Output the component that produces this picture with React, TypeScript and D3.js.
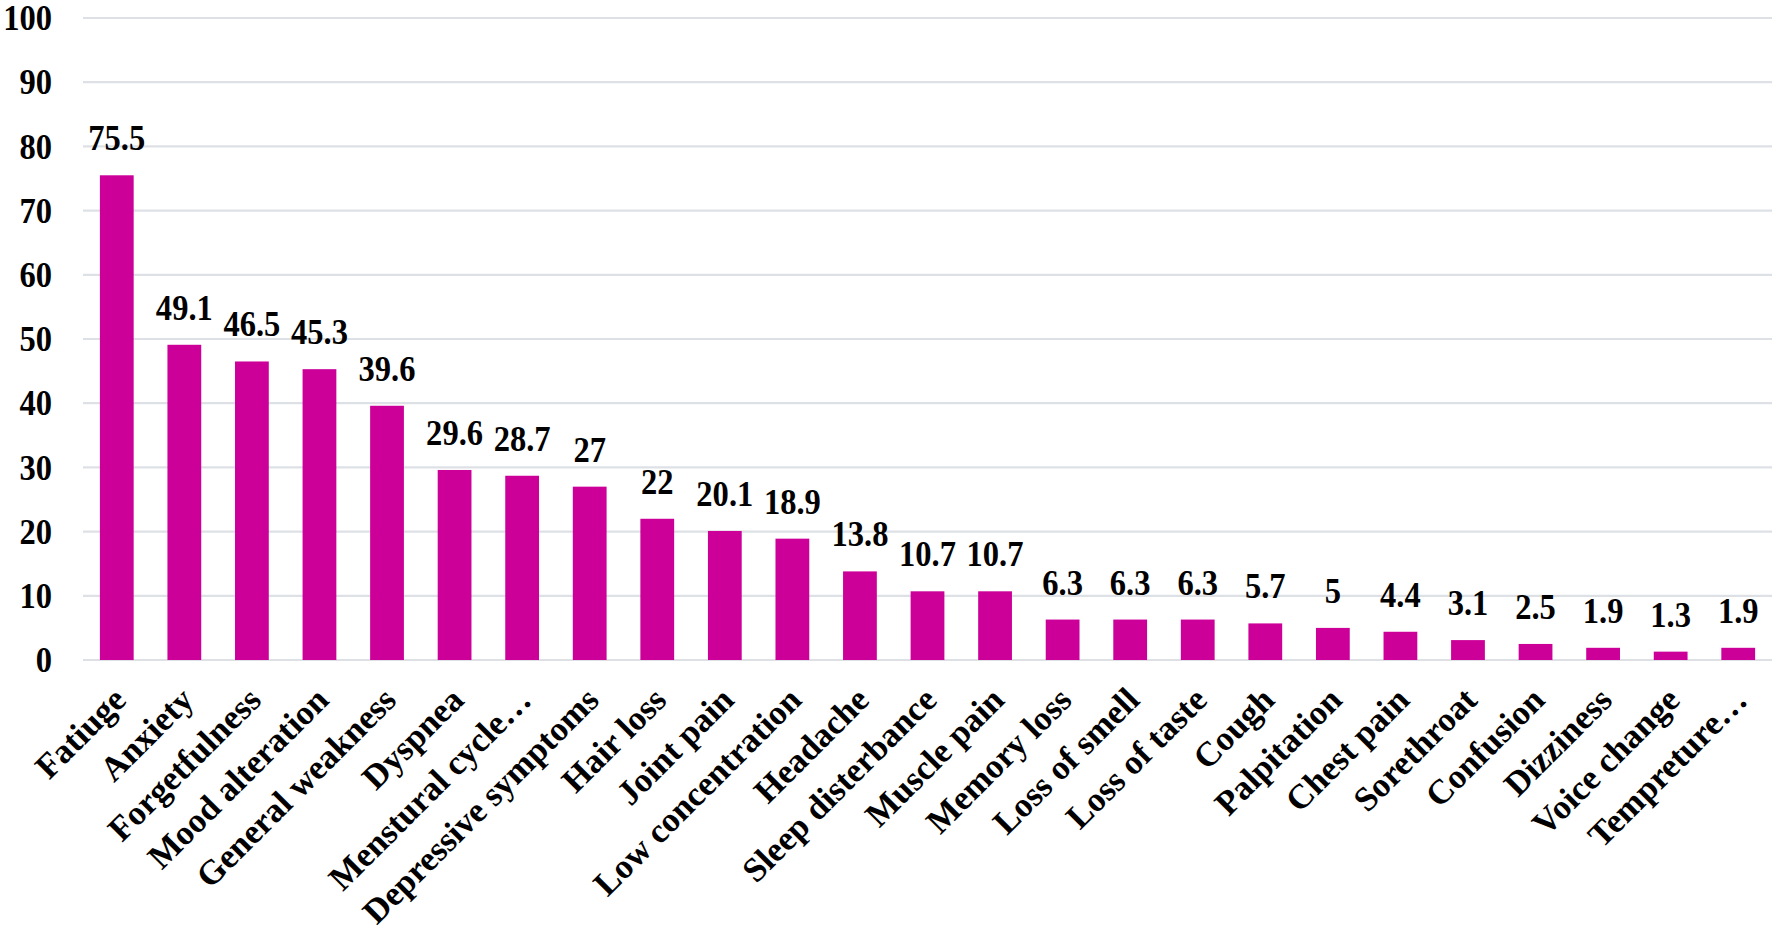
import React from "react";
import * as d3 from "d3";

const categories = [
  "Fatiuge", "Anxiety", "Forgetfulness", "Mood alteration", "General weakness",
  "Dyspnea", "Menstural cycle…", "Depressive symptoms", "Hair loss", "Joint pain",
  "Low concentration", "Headache", "Sleep disterbance", "Muscle pain", "Memory loss",
  "Loss of smell", "Loss of taste", "Cough", "Palpitation", "Chest pain",
  "Sorethroat", "Confusion", "Dizziness", "Voice change", "Tempreture…",
];
const values = [
  75.5, 49.1, 46.5, 45.3, 39.6, 29.6, 28.7, 27, 22, 20.1, 18.9, 13.8, 10.7, 10.7,
  6.3, 6.3, 6.3, 5.7, 5, 4.4, 3.1, 2.5, 1.9, 1.3, 1.9,
];
const yTicks = [0, 10, 20, 30, 40, 50, 60, 70, 80, 90, 100];

const W = 1772;
const H = 932;
const FONT = "'Liberation Serif', 'Times New Roman', serif";

export default function App() {
  const x = d3.scaleBand<string>().domain(categories).range([83, 1772]).paddingInner(0.5).paddingOuter(0.25);
  const y = d3.scaleLinear().domain([0, 100]).range([660, 18]);
  const bw = x.bandwidth();

  return (
    <svg width={W} height={H} style={{ position: "absolute", left: 0, top: 0, background: "#fff" }}>
      {yTicks.map((t) => (
        <g key={t}>
          <line x1={83} x2={W} y1={y(t)} y2={y(t)} stroke="#dde1e6" strokeWidth={2.2} />
          <text
            transform={`translate(52,${y(t)}) scale(0.93,1)`}
            dy="0.35em"
            textAnchor="end"
            fontFamily={FONT}
            fontWeight="bold"
            fontSize={35}
            fill="#000"
          >
            {t}
          </text>
        </g>
      ))}
      {categories.map((c, i) => {
        const cx = (x(c) as number) + bw / 2;
        return (
          <g key={c}>
            <rect x={x(c)} y={y(values[i])} width={bw} height={y(0) - y(values[i])} fill="#cc0099" />
            <text
              transform={`translate(${cx},${y(values[i]) - 25}) scale(0.93,1)`}
              textAnchor="middle"
              fontFamily={FONT}
              fontWeight="bold"
              fontSize={35}
              fill="#000"
            >
              {values[i]}
            </text>
            <text
              transform={`translate(${cx + 11},${702}) rotate(-45)`}
              textAnchor="end"
              fontFamily={FONT}
              fontWeight="bold"
              fontSize={34.5}
              fill="#000"
            >
              {c}
            </text>
          </g>
        );
      })}
    </svg>
  );
}
